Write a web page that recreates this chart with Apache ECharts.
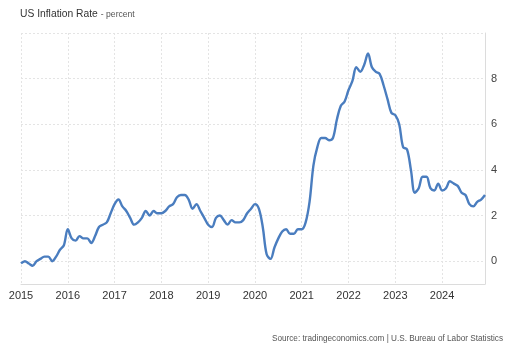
<!DOCTYPE html>
<html>
<head>
<meta charset="utf-8">
<script src="https://cdn.jsdelivr.net/npm/echarts@6/dist/echarts.min.js"></script>
<style>
  html, body { margin: 0; padding: 0; background: #ffffff; }
  #chart { width: 512px; height: 349px; }
</style>
</head>
<body>
<div id="chart"></div>
<script>
// US CPI inflation, year-over-year percent, monthly Jan 2015 – Dec 2024
const years = [2015, 2016, 2017, 2018, 2019, 2020, 2021, 2022, 2023, 2024];
const inflation2015 = [-0.1, 0.0, -0.1, -0.2, 0.0, 0.1, 0.2, 0.2, 0.0, 0.2, 0.5, 0.7];
const inflation2016 = [1.4, 1.0, 0.9, 1.1, 1.0, 1.0, 0.8, 1.1, 1.5, 1.6, 1.7, 2.1];
const inflation2017 = [2.5, 2.7, 2.4, 2.2, 1.9, 1.6, 1.7, 1.9, 2.2, 2.0, 2.2, 2.1];
const inflation2018 = [2.1, 2.2, 2.4, 2.5, 2.8, 2.9, 2.9, 2.7, 2.3, 2.5, 2.2, 1.9];
const inflation2019 = [1.6, 1.5, 1.9, 2.0, 1.8, 1.6, 1.8, 1.7, 1.7, 1.8, 2.1, 2.3];
const inflation2020 = [2.5, 2.3, 1.5, 0.3, 0.1, 0.6, 1.0, 1.3, 1.4, 1.2, 1.2, 1.4];
const inflation2021 = [1.4, 1.7, 2.6, 4.2, 5.0, 5.4, 5.4, 5.3, 5.4, 6.2, 6.8, 7.0];
const inflation2022 = [7.5, 7.9, 8.5, 8.3, 8.6, 9.1, 8.5, 8.3, 8.2, 7.7, 7.1, 6.5];
const inflation2023 = [6.4, 6.0, 5.0, 4.9, 4.0, 3.0, 3.2, 3.7, 3.7, 3.2, 3.1, 3.4];
const inflation2024 = [3.1, 3.2, 3.5, 3.4, 3.3, 3.0, 2.9, 2.5, 2.4, 2.6, 2.7, 2.9];

const yTickValues = [0, 2, 4, 6, 8, 10];
const yLabelValues = [0, 2, 4, 6, 8];

const yearlySeries = [inflation2015, inflation2016, inflation2017, inflation2018, inflation2019,
                      inflation2020, inflation2021, inflation2022, inflation2023, inflation2024];

const months = [];
const values = [];
years.forEach((y, i) => {
  yearlySeries[i].forEach((v, m) => {
    months.push(y + '-' + String(m + 1).padStart(2, '0'));
    values.push(v);
  });
});

const chart = echarts.init(document.getElementById('chart'), null, { renderer: 'canvas' });
const FONT = 'Liberation Sans, Arial, sans-serif';

chart.setOption({
  animation: false,
  backgroundColor: '#ffffff',
  textStyle: { fontFamily: FONT },
  title: [{
    text: '{a|US Inflation Rate}{b|- percent}',
    left: 15,
    top: 4,
    textStyle: {
      fontWeight: 'normal',
      rich: {
        a: { fontSize: 10.3, fontWeight: 'normal', color: '#333333', fontFamily: FONT },
        b: { fontSize: 8.6, fontWeight: 'normal', color: '#555555', fontFamily: FONT, padding: [1, 0, 0, 3] }
      }
    }
  }, {
    text: 'Source: tradingeconomics.com | U.S. Bureau of Labor Statistics',
    right: 4,
    top: 330,
    textStyle: { fontSize: 8.2, fontWeight: 'normal', color: '#555555', fontFamily: FONT }
  }],
  grid: { left: 21, right: 27, top: 33, bottom: 65, containLabel: false },
  xAxis: {
    type: 'category',
    data: months,
    boundaryGap: false,
    axisLine: { show: true, onZero: false, lineStyle: { color: '#dcdcdc', width: 1 } },
    axisTick: { show: false },
    axisLabel: {
      interval: 11,
      margin: 6,
      fontSize: 11,
      color: '#333333',
      fontFamily: FONT,
      formatter: v => v.slice(0, 4)
    },
    splitLine: {
      show: true,
      interval: 11,
      lineStyle: { color: '#e4e4e4', type: [2, 2], width: 1 }
    }
  },
  yAxis: {
    type: 'value',
    position: 'right',
    min: -1,
    max: 10,
    axisLine: { show: true, lineStyle: { color: '#dcdcdc', width: 1 } },
    axisTick: { show: false, customValues: yTickValues },
    axisLabel: {
      customValues: yLabelValues,
      margin: 6,
      fontSize: 11,
      color: '#444444',
      fontFamily: FONT
    },
    splitLine: {
      show: true,
      lineStyle: { color: '#e4e4e4', type: [2, 2], width: 1 }
    }
  },
  series: [{
    type: 'line',
    data: values,
    smooth: 0.35,
    symbol: 'none',
    lineStyle: { color: '#4a7dbf', width: 2.4 },
    itemStyle: { color: '#4a7dbf' }
  }]
});
</script>
</body>
</html>
